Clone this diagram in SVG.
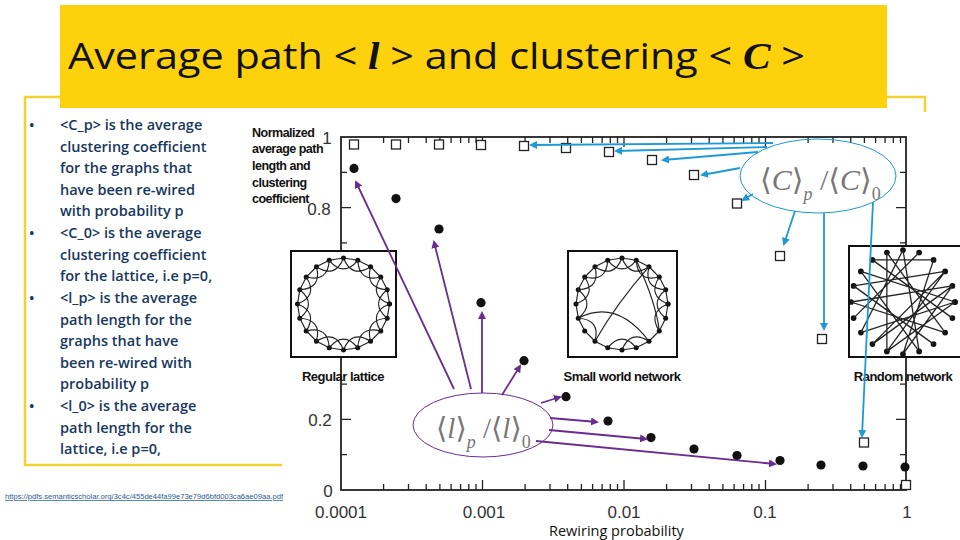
<svg xmlns="http://www.w3.org/2000/svg" xmlns:xlink="http://www.w3.org/1999/xlink" width="960" height="540" viewBox="0 0 960 540">
<style>
.bul{font-family:"Open Sans","Liberation Sans",sans-serif;font-size:14.5px;fill:#17375E;font-weight:600}
.ax{font-family:"Liberation Sans",Arial,sans-serif;font-size:17px;fill:#333}
.lab{font-family:"Liberation Sans",Arial,sans-serif;font-size:12.5px;font-weight:bold;fill:#111;letter-spacing:-0.5px}
.blue{stroke:#1C9AD6;stroke-width:1.8;fill:none;marker-end:url(#ab)}
.pur{stroke:#6B2C91;stroke-width:1.8;fill:none;marker-end:url(#ap)}
.sq{fill:#fff;stroke:#222;stroke-width:1.3}
.dot{fill:#111}
.net{fill:none;stroke:#222;stroke-width:1}
.box{fill:#fff;stroke:#111;stroke-width:2}
.math{font-family:"Liberation Serif","DejaVu Serif",serif;fill:#777}
</style>
<defs>
<marker id="ab" markerWidth="8" markerHeight="8" refX="6" refY="4" orient="auto" markerUnits="userSpaceOnUse"><path d="M0,0 L8,4 L0,8 z" fill="#1C9AD6"/></marker>
<marker id="ap" markerWidth="8" markerHeight="8" refX="6" refY="4" orient="auto" markerUnits="userSpaceOnUse"><path d="M0,0 L8,4 L0,8 z" fill="#6B2C91"/></marker>
<marker id="nd" markerWidth="5" markerHeight="5" refX="2.5" refY="2.5" markerUnits="userSpaceOnUse"><circle cx="2.5" cy="2.5" r="2.2" fill="#111"/></marker>
<polygon id="ring" class="net" style="marker-start:url(#nd);marker-mid:url(#nd);marker-end:url(#nd)" points="40,0 38,12.4 32.4,23.5 23.5,32.4 12.4,38 0,40 -12.4,38 -23.5,32.4 -32.4,23.5 -38,12.4 -40,0 -38,-12.4 -32.4,-23.5 -23.5,-32.4 -12.4,-38 0,-40 12.4,-38 23.5,-32.4 32.4,-23.5 38,-12.4"/>
<path id="arcsA" class="net" stroke-width="0.9" d="M40,0Q21.9,7.1 32.4,23.5M38,12.4Q18.6,13.5 23.5,32.4M32.4,23.5Q13.5,18.6 12.4,38M23.5,32.4Q7.1,21.9 0,40M12.4,38Q0,23 -12.4,38M0,40Q-7.1,21.9 -23.5,32.4M-12.4,38Q-13.5,18.6 -32.4,23.5M-23.5,32.4Q-18.6,13.5 -38,12.4M-32.4,23.5Q-21.9,7.1 -40,0M-38,12.4Q-23,0 -38,-12.4"/>
<path id="arcsB" class="net" stroke-width="0.9" d="M-40,0Q-21.9,-7.1 -32.4,-23.5M-38,-12.4Q-18.6,-13.5 -23.5,-32.4M-32.4,-23.5Q-13.5,-18.6 -12.4,-38M-23.5,-32.4Q-7.1,-21.9 0,-40M-12.4,-38Q0,-23 12.4,-38M0,-40Q7.1,-21.9 23.5,-32.4M12.4,-38Q13.5,-18.6 32.4,-23.5M23.5,-32.4Q18.6,-13.5 38,-12.4M32.4,-23.5Q21.9,-7.1 40,0M38,-12.4Q23,0 38,12.4"/>
</defs>
<rect width="960" height="540" fill="#fff"/>
<g id="frame" fill="none" stroke="#F3D131" stroke-width="2.5">
<path d="M60,97 H25 V465 H282 M887,97 H925 V112"/>
</g>
<g id="title">
<rect x="60" y="5" width="827" height="103" fill="#FDD20D"/>
<text x="68" y="69" font-family="'Open Sans','Liberation Sans',sans-serif" font-size="37" fill="#111" textLength="737" lengthAdjust="spacingAndGlyphs">Average path &lt; <tspan font-family="'Liberation Serif',serif" font-style="italic" font-weight="bold">l</tspan> &gt; and clustering &lt; <tspan font-family="'Liberation Serif',serif" font-style="italic" font-weight="bold">C</tspan> &gt;</text>
</g>
<g id="bullets">
<g class="bul">
<text x="29" y="130">•</text><text x="29" y="238">•</text><text x="29" y="303">•</text><text x="29" y="411">•</text>
<text x="60" y="130">&lt;C_p&gt; is the average</text>
<text x="60" y="152">clustering coefficient</text>
<text x="60" y="173">for the graphs that</text>
<text x="60" y="195">have been re-wired</text>
<text x="60" y="216">with probability p</text>
<text x="60" y="238">&lt;C_0&gt; is the average</text>
<text x="60" y="260">clustering coefficient</text>
<text x="60" y="281">for the lattice, i.e p=0,</text>
<text x="60" y="303">&lt;l_p&gt; is the average</text>
<text x="60" y="325">path length for the</text>
<text x="60" y="346">graphs that have</text>
<text x="60" y="368">been re-wired with</text>
<text x="60" y="389">probability p</text>
<text x="60" y="411">&lt;l_0&gt; is the average</text>
<text x="60" y="433">path length for the</text>
<text x="60" y="454">lattice, i.e p=0,</text>
</g>
</g>
<g id="url"><text x="5" y="499" font-family="'Liberation Sans',sans-serif" font-size="7.3" fill="#1F5C99" text-decoration="underline" textLength="278" lengthAdjust="spacingAndGlyphs">https://pdfs.semanticscholar.org/3c4c/455de44fa99e73e79d6bfd003ca6ae09aa.pdf</text></g>
<g id="chart">
<rect x="341" y="137" width="565" height="353" fill="none" stroke="#222" stroke-width="1.8"/>
<path stroke="#222" stroke-width="1.3" fill="none" d="M482.5,490v-10M624,490v-10M765.5,490v-10M482.5,137v10M624,137v10M765.5,137v10
M383.6,490v-6M408.5,490v-6M426.2,490v-6M439.9,490v-6M451.1,490v-6M460.6,490v-6M468.8,490v-6M476,490v-6
M525.1,490v-6M550,490v-6M567.7,490v-6M581.4,490v-6M592.6,490v-6M602.1,490v-6M610.3,490v-6M617.5,490v-6
M666.6,490v-6M691.5,490v-6M709.2,490v-6M722.9,490v-6M734.1,490v-6M743.6,490v-6M751.8,490v-6M759,490v-6
M808.1,490v-6M833,490v-6M850.7,490v-6M864.4,490v-6M875.6,490v-6M885.1,490v-6M893.3,490v-6M900.5,490v-6
M383.6,137v6M408.5,137v6M426.2,137v6M439.9,137v6M451.1,137v6M460.6,137v6M468.8,137v6M476,137v6
M525.1,137v6M550,137v6M567.7,137v6M581.4,137v6M592.6,137v6M602.1,137v6M610.3,137v6M617.5,137v6
M666.6,137v6M691.5,137v6M709.2,137v6M722.9,137v6M734.1,137v6M743.6,137v6M751.8,137v6M759,137v6
M808.1,137v6M833,137v6M850.7,137v6M864.4,137v6M875.6,137v6M885.1,137v6M893.3,137v6M900.5,137v6
M341,419.4h10M341,348.8h10M341,278.2h10M341,207.6h10M906,419.4h-10M906,348.8h-10M906,278.2h-10M906,207.6h-10
M341,454.7h6M341,384.1h6M341,313.5h6M341,242.9h6M341,172.3h6M906,454.7h-6M906,384.1h-6M906,313.5h-6M906,242.9h-6M906,172.3h-6"/>
<g class="ax">
<text x="328" y="497" text-anchor="middle">0</text>
<text x="320" y="426" text-anchor="middle">0.2</text>
<text x="319" y="215" text-anchor="middle">0.8</text>
<text x="327" y="144" text-anchor="middle">1</text>
<text x="341" y="518" text-anchor="middle">0.0001</text>
<text x="484" y="518" text-anchor="middle">0.001</text>
<text x="624" y="518" text-anchor="middle">0.01</text>
<text x="765" y="518" text-anchor="middle">0.1</text>
<text x="907" y="518" text-anchor="middle">1</text>
</g>
<text x="549" y="536" font-family="'Open Sans','Liberation Sans',sans-serif" font-size="14.5" fill="#111">Rewiring probability</text>
<g class="lab">
<text x="252" y="137">Normalized</text>
<text x="252" y="153">average path</text>
<text x="252" y="170">length and</text>
<text x="252" y="187">clustering</text>
<text x="252" y="203">coefficient</text>
</g>
<g id="lattice">
<rect class="box" x="291" y="251" width="105" height="106"/>
<g transform="translate(343.5,304) scale(1.15)">
<use xlink:href="#ring"/><use xlink:href="#arcsA"/><use xlink:href="#arcsB"/>
</g>
</g>
<g id="smallworld">
<rect class="box" x="568" y="251" width="109" height="106"/>
<g transform="translate(622,304) scale(1.15)">
<use xlink:href="#ring"/><use xlink:href="#arcsB"/>
<path class="net" stroke-width="0.9" d="M40,0Q21.9,7.1 32.4,23.5M23.5,32.4Q7.1,21.9 0,40M12.4,38Q0,23 -12.4,38M-23.5,32.4Q-18.6,13.5 -38,12.4M-38,12.4Q-23,0 -38,-12.4"/>
<path class="net" stroke-width="0.9" d="M-38,12.4 Q-5,-5 23.5,32.4 M-23.5,32.4 Q-5,0 23.5,-32.4 M32.4,23.5 Q30,0 12.4,-38"/>
</g>
</g>
<g id="random">
<rect class="box" x="849" y="246" width="115" height="111"/>
<g transform="translate(903,302) scale(1.3)">
<polygon class="net" style="stroke:none;marker-start:url(#nd);marker-mid:url(#nd);marker-end:url(#nd)" points="40,0 38,12.4 32.4,23.5 23.5,32.4 12.4,38 0,40 -12.4,38 -23.5,32.4 -32.4,23.5 -38,12.4 -40,0 -38,-12.4 -32.4,-23.5 -23.5,-32.4 -12.4,-38 0,-40 12.4,-38 23.5,-32.4 32.4,-23.5 38,-12.4"/>
<path class="net" stroke-width="0.9" d="M40,0L-32.4,-23.5M38,12.4L-23.5,-32.4M32.4,23.5L-12.4,-38M23.5,32.4L-38,-12.4M12.4,38L0,-40M0,40L23.5,-32.4M-12.4,38L32.4,-23.5M-23.5,32.4L38,-12.4M-32.4,23.5L40,0M-38,12.4L12.4,-38M-40,0L32.4,23.5M-38,-12.4L23.5,32.4M-32.4,-23.5L12.4,38M-23.5,-32.4L38,12.4M-12.4,-38L-12.4,38M0,-40L-32.4,23.5M12.4,-38L-38,12.4M23.5,-32.4L0,40M32.4,-23.5L-23.5,32.4M38,-12.4L-40,0M40,0L-12.4,38M-38,-12.4L32.4,-23.5M0,40L38,-12.4M-23.5,-32.4L23.5,-32.4"/>
</g>
</g>
<g class="ax" style="font-size:13px;font-weight:bold;fill:#111;letter-spacing:-0.5px">
<text x="343" y="381" text-anchor="middle">Regular lattice</text>
<text x="622" y="381" text-anchor="middle">Small world network</text>
<text x="903" y="381" text-anchor="middle">Random network</text>
</g>
<g id="squares">
<rect class="sq" x="349.5" y="140" width="9" height="9"/><rect class="sq" x="391.5" y="140" width="9" height="9"/>
<rect class="sq" x="434.5" y="140" width="9" height="9"/><rect class="sq" x="476.5" y="140.5" width="9" height="9"/>
<rect class="sq" x="519.5" y="141.5" width="9" height="9"/><rect class="sq" x="561.5" y="143.5" width="9" height="9"/>
<rect class="sq" x="604.5" y="147.5" width="9" height="9"/><rect class="sq" x="647.5" y="155.5" width="9" height="9"/>
<rect class="sq" x="689.5" y="170.5" width="9" height="9"/><rect class="sq" x="732.5" y="199" width="9" height="9"/>
<rect class="sq" x="775.5" y="251.5" width="9" height="9"/><rect class="sq" x="817.5" y="334.5" width="9" height="9"/>
<rect class="sq" x="859.5" y="438" width="9" height="9"/><rect class="sq" x="901.5" y="480.5" width="9" height="9"/>
</g>
<g id="circles" class="dot">
<circle cx="354" cy="168.4" r="4.6"/><circle cx="396" cy="198.6" r="4.6"/><circle cx="439" cy="229" r="4.6"/>
<circle cx="481" cy="302.7" r="4.6"/><circle cx="524" cy="360.7" r="4.6"/><circle cx="566" cy="396.7" r="4.6"/>
<circle cx="608" cy="421" r="4.6"/><circle cx="651" cy="437.6" r="4.6"/><circle cx="694" cy="449" r="4.6"/>
<circle cx="737" cy="455.6" r="4.6"/><circle cx="780" cy="460.5" r="4.6"/><circle cx="821" cy="465" r="4.6"/>
<circle cx="863" cy="466" r="4.6"/><circle cx="905" cy="467" r="4.6"/>
</g>
</g>
<g id="C-ratio">
<ellipse cx="818" cy="176" rx="78" ry="37" fill="none" stroke="#1C9AD6" stroke-width="1"/>
<text class="math" x="760" y="190" font-size="30">⟨<tspan font-style="italic">C</tspan>⟩<tspan font-size="18" font-style="italic" dy="10">p</tspan><tspan dy="-10"> /⟨</tspan><tspan font-style="italic">C</tspan>⟩<tspan font-size="18" dy="10">0</tspan></text>
</g>
<g id="l-ratio">
<ellipse cx="483" cy="425" rx="70" ry="32" fill="none" stroke="#6B2C91" stroke-width="1"/>
<text class="math" x="436" y="438" font-size="29">⟨<tspan font-style="italic">l</tspan>⟩<tspan font-size="18" font-style="italic" dy="10">p</tspan><tspan dy="-10"> /⟨</tspan><tspan font-style="italic">l</tspan>⟩<tspan font-size="18" dy="10">0</tspan></text>
</g>
<g id="connectors">
<path class="blue" d="M773,143 L531,145"/>
<path class="blue" d="M767,147 L616,151"/>
<path class="blue" d="M758,152 L663,160"/>
<path class="blue" d="M740,168 L702,175"/>
<path class="blue" d="M753,194 L743,200"/>
<path class="blue" d="M795,211 L784,244"/>
<path class="blue" d="M824,213 L824,329"/>
<path class="blue" d="M873,202 L862,436"/>
<path class="pur" d="M454,389 L356,182"/>
<path class="pur" d="M471,389 L434,242"/>
<path class="pur" d="M482,393 L482,313"/>
<path class="pur" d="M502,395 L520,366"/>
<path class="pur" d="M541,403 L560,397"/>
<path class="pur" d="M550,418 L597,422"/>
<path class="pur" d="M549,430 L646,439"/>
<path class="pur" d="M536,441 L775,464"/>
</g>
</svg>
